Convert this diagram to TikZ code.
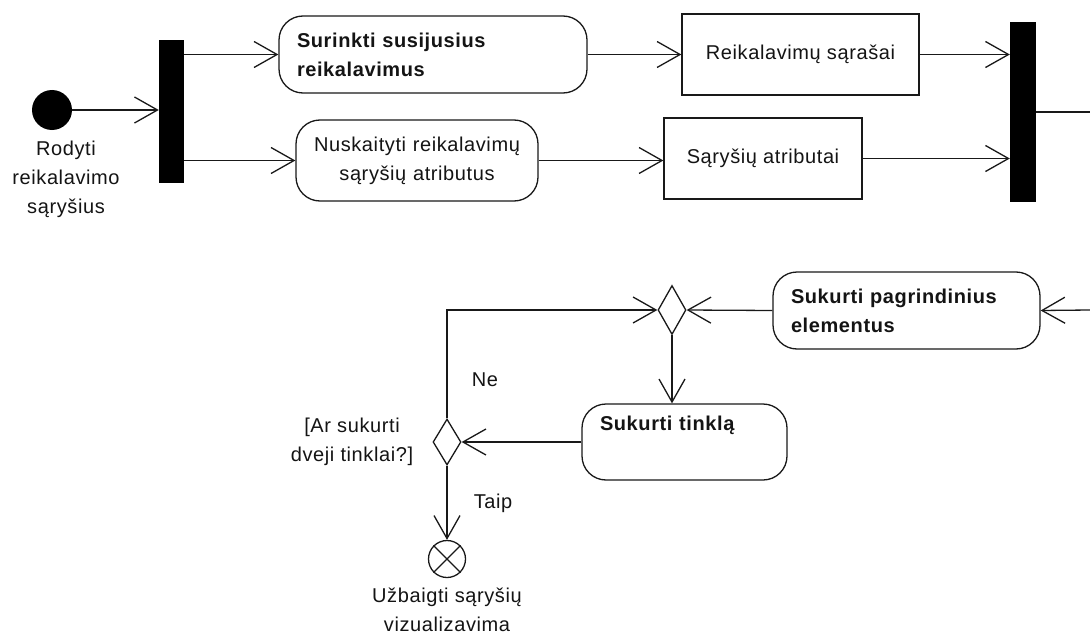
\documentclass[tikz,border=0pt]{standalone}
\usepackage{fontspec}
\setmainfont{Liberation Sans}[LetterSpace=3]
\usetikzlibrary{arrows.meta,shapes.geometric}

\tikzset{
  every node/.style={font=\fontsize{20}{29}\selectfont, text=black!92},
  ln/.style={draw=black!90, line width=1.3pt},
  flow/.style={ln, -{Straight Barb[length=23pt,width=26pt,line width=1.3pt]}},
  bar/.style={fill=black, draw=none, inner sep=0pt},
  action/.style={ln, rounded corners=24pt, inner xsep=18pt, inner ysep=0pt},
  object/.style={ln, inner sep=0pt, align=center},
  branch/.style={ln, diamond, inner sep=0pt, fill=white},
  caption/.style={align=center, inner sep=0pt},
}

\begin{document}
\begin{tikzpicture}[x=1pt,y=-1pt]
  \useasboundingbox[fill=white] (0,0) rectangle (1090,634);

  % start, fork and parallel branches
  \node[circle, fill=black, minimum size=40pt, inner sep=0pt] (init) at (52,110) {};
  \node[caption] (initlabel) at (66,179) {Rodyti\\reikalavimo\\sąryšius};
  \node[bar, minimum width=25pt, minimum height=143pt] (fork) at (171.5,111.5) {};

  \node[action, text width=272pt, minimum height=77pt, align=left, font=\fontsize{20}{29}\selectfont\bfseries]
    (collect) at (433,54.5) {Surinkti susijusius\\reikalavimus};
  \node[action, text width=206pt, minimum height=81pt, align=center]
    (read) at (417,160.5) {Nuskaityti reikalavimų\\sąryšių atributus};

  \node[object, minimum width=237pt, minimum height=81pt] (lists) at (800.5,54.5) {Reikalavimų sąrašai};
  \node[object, minimum width=198pt, minimum height=81pt] (attrs) at (763,158.5) {Sąryšių atributai};

  \node[bar, minimum width=26pt, minimum height=180pt] (join) at (1023,112) {};
  \coordinate (joinout) at (1090,112);

  % network construction loop
  \coordinate (loopin) at (1090,310);
  \node[action, text width=231pt, minimum height=77pt, align=left, font=\fontsize{20}{29}\selectfont\bfseries]
    (base) at (906.5,310.5) {Sukurti pagrindinius\\elementus};
  \node[branch, minimum width=28pt, minimum height=49pt] (merge) at (672,310) {};
  \node[action, text width=169pt, minimum height=76pt, align=left, font=\fontsize{20}{29}\selectfont\bfseries]
    (net) at (684.5,442) {Sukurti tinklą\\\strut};
  \node[branch, minimum width=28pt, minimum height=46pt] (decide) at (447,442) {};

  \node[circle, ln, minimum size=37pt, inner sep=0pt] (final) at (447,559) {};
  \draw[ln] (final.north east) -- (final.south west) (final.north west) -- (final.south east);
  \node[caption] (finallabel) at (447,610) {Užbaigti sąryšių\\vizualizavima};

  \node[inner sep=0pt] (no) at (485,380) {Ne};
  \node[inner sep=0pt] (yes) at (493,503) {Taip};
  \node[caption] (guard) at (352,442) {[Ar sukurti\\dveji tinklai?]};

  % connectors
  \draw[flow] (init.east) -- (init.east -| fork.west);
  \draw[flow] (fork.east |- collect.west) -- (collect.west);
  \draw[flow] (fork.east |- read.west) -- (read.west);
  \draw[flow] (collect.east) -- (collect.east -| lists.west);
  \draw[flow] (read.east) -- (read.east -| attrs.west);
  \draw[flow] (lists.east) -- (lists.east -| join.west);
  \draw[flow] (attrs.east) -- (attrs.east -| join.west);
  \draw[ln] (join.east) -- (joinout);

  \draw[flow] (loopin) -- (base.east);
  \draw[flow] (base.west) -- (merge.east);
  \draw[flow] (merge.south) -- (merge.south |- net.north);
  \draw[flow] (net.west) -- (decide.east);
  \draw[flow] (decide.north) -- (decide.north |- merge.west) -- (merge.west);
  \draw[flow] (decide.south) -- (final.north);
\end{tikzpicture}
\end{document}
